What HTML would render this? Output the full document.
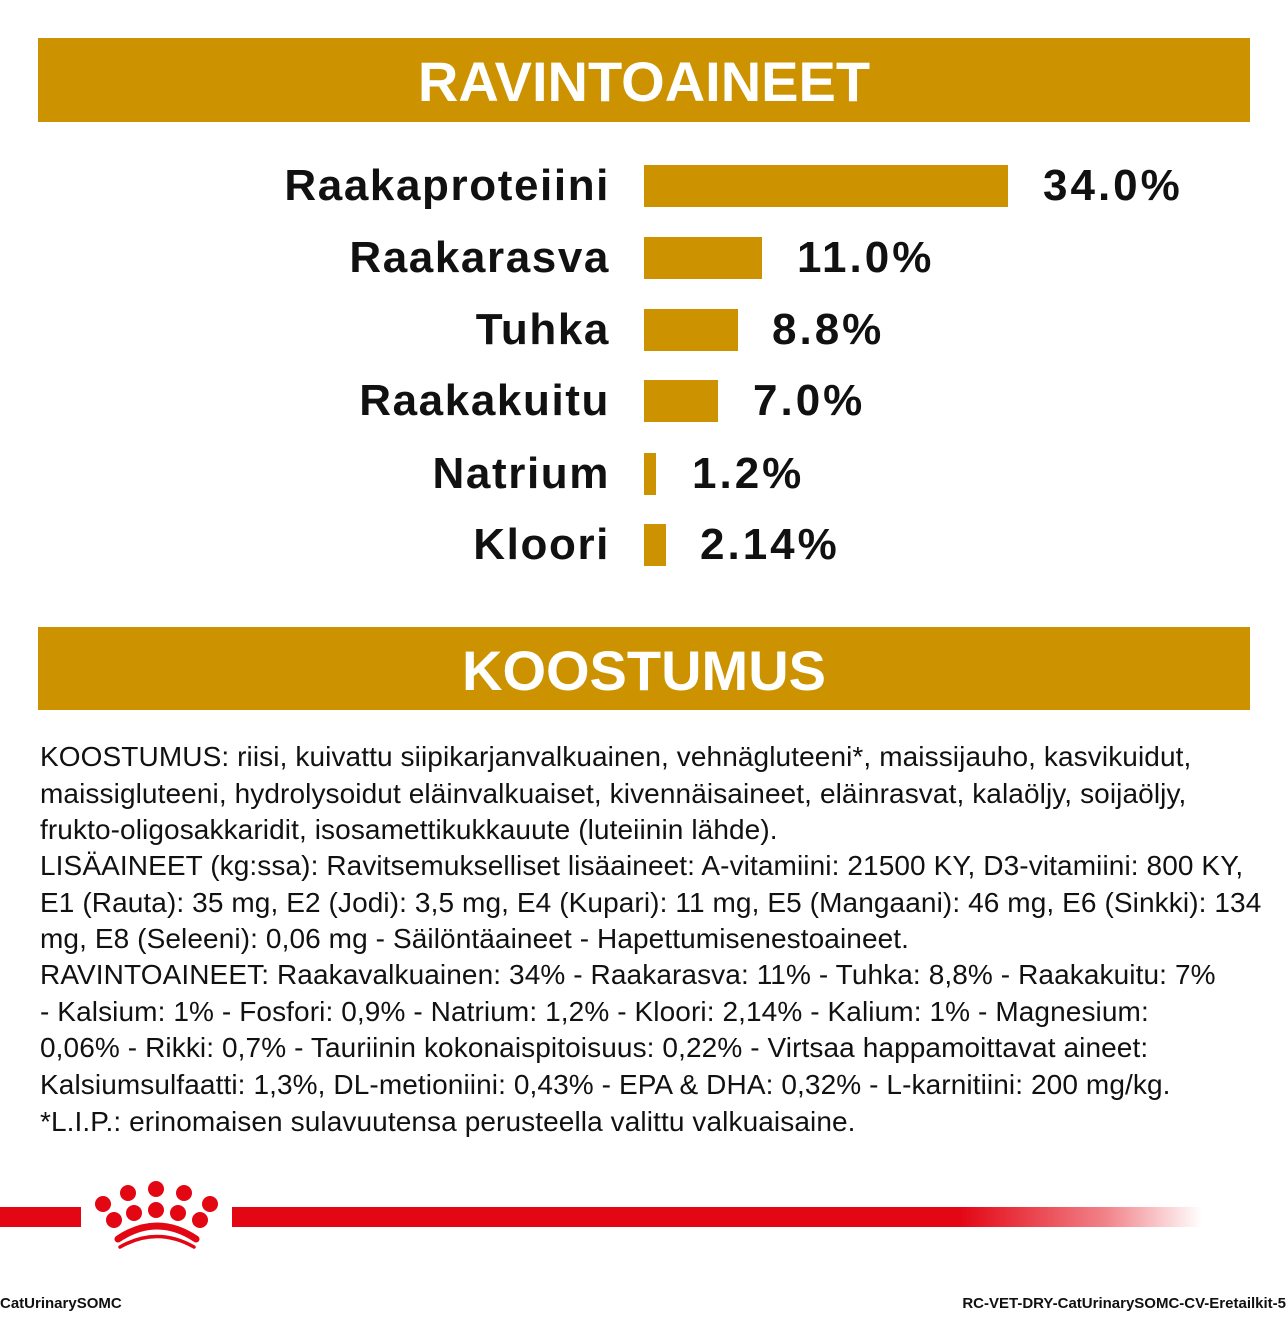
<!DOCTYPE html>
<html><head><meta charset="utf-8"><style>
body{margin:0;width:1288px;height:1320px;background:#fff;position:relative;overflow:hidden;font-family:"Liberation Sans",sans-serif;color:#111}
.hd{position:absolute;left:38px;width:1212px;background:#cc9200;color:#fff;font-weight:bold;font-size:56px;text-align:center;letter-spacing:0}
.lb{position:absolute;right:678px;font-weight:bold;font-size:44px;line-height:50px;white-space:nowrap;letter-spacing:1.6px}
.bar{position:absolute;left:644px;height:42px;background:#cc9200}
.v{position:absolute;font-weight:bold;font-size:44px;line-height:50px;white-space:nowrap;letter-spacing:3px}
.t{position:absolute;left:40px;font-size:28px;line-height:36px;white-space:nowrap;letter-spacing:0.1px}
.f{position:absolute;top:1295px;font-weight:bold;font-size:15px;white-space:nowrap}
</style></head><body>
<div class="hd" style="top:38px;height:84px;line-height:88px">RAVINTOAINEET</div>
<div class="lb" style="top:161px">Raakaproteiini</div><div class="bar" style="top:165px;width:364px"></div><div class="v" style="left:1043px;top:161px">34.0%</div>
<div class="lb" style="top:233px">Raakarasva</div><div class="bar" style="top:237px;width:118px"></div><div class="v" style="left:797px;top:233px">11.0%</div>
<div class="lb" style="top:305px">Tuhka</div><div class="bar" style="top:309px;width:94px"></div><div class="v" style="left:772px;top:305px">8.8%</div>
<div class="lb" style="top:376px">Raakakuitu</div><div class="bar" style="top:380px;width:74px"></div><div class="v" style="left:753px;top:376px">7.0%</div>
<div class="lb" style="top:449px">Natrium</div><div class="bar" style="top:453px;width:12px"></div><div class="v" style="left:692px;top:449px">1.2%</div>
<div class="lb" style="top:520px">Kloori</div><div class="bar" style="top:524px;width:22px"></div><div class="v" style="left:700px;top:520px">2.14%</div>
<div class="hd" style="top:627px;height:83px;line-height:88px">KOOSTUMUS</div>
<div class="t" style="top:739px">KOOSTUMUS: riisi, kuivattu siipikarjanvalkuainen, vehnägluteeni*, maissijauho, kasvikuidut,</div>
<div class="t" style="top:776px">maissigluteeni, hydrolysoidut eläinvalkuaiset, kivennäisaineet, eläinrasvat, kalaöljy, soijaöljy,</div>
<div class="t" style="top:812px">frukto-oligosakkaridit, isosamettikukkauute (luteiinin lähde).</div>
<div class="t" style="top:848px">LISÄAINEET (kg:ssa): Ravitsemukselliset lisäaineet: A-vitamiini: 21500 KY, D3-vitamiini: 800 KY,</div>
<div class="t" style="top:885px">E1 (Rauta): 35 mg, E2 (Jodi): 3,5 mg, E4 (Kupari): 11 mg, E5 (Mangaani): 46 mg, E6 (Sinkki): 134</div>
<div class="t" style="top:921px">mg, E8 (Seleeni): 0,06 mg - Säilöntäaineet - Hapettumisenestoaineet.</div>
<div class="t" style="top:957px">RAVINTOAINEET: Raakavalkuainen: 34% - Raakarasva: 11% - Tuhka: 8,8% - Raakakuitu: 7%</div>
<div class="t" style="top:994px">- Kalsium: 1% - Fosfori: 0,9% - Natrium: 1,2% - Kloori: 2,14% - Kalium: 1% - Magnesium:</div>
<div class="t" style="top:1030px">0,06% - Rikki: 0,7% - Tauriinin kokonaispitoisuus: 0,22% - Virtsaa happamoittavat aineet:</div>
<div class="t" style="top:1067px">Kalsiumsulfaatti: 1,3%, DL-metioniini: 0,43% - EPA &amp; DHA: 0,32% - L-karnitiini: 200 mg/kg.</div>
<div class="t" style="top:1104px">*L.I.P.: erinomaisen sulavuutensa perusteella valittu valkuaisaine.</div>
<div style="position:absolute;left:0;top:1207px;width:81px;height:20px;background:#e30613"></div>
<div style="position:absolute;left:232px;top:1207px;width:970px;height:20px;background:linear-gradient(90deg,#e30613 0%,#e30613 75%,rgba(227,6,19,0.5) 90%,rgba(227,6,19,0) 100%)"></div>
<svg style="position:absolute;left:80px;top:1170px" width="160" height="90" viewBox="80 1170 160 90">
<g fill="#e30613">
<circle cx="156" cy="1189" r="8"/><circle cx="128" cy="1193" r="8"/><circle cx="184" cy="1193" r="8"/>
<circle cx="103" cy="1204" r="8"/><circle cx="210" cy="1204" r="8"/>
<circle cx="134" cy="1213" r="8"/><circle cx="156" cy="1210" r="8"/><circle cx="178" cy="1213" r="8"/>
<circle cx="114" cy="1220" r="8"/><circle cx="200" cy="1220" r="8"/>
</g>
<path d="M118 1239 Q157 1213 196 1239" stroke="#e30613" stroke-width="7" fill="none" stroke-linecap="round"/>
<path d="M120 1247 Q157 1226 194 1247" stroke="#e30613" stroke-width="3.5" fill="none" stroke-linecap="round"/>
</svg>
<div class="f" style="left:0">CatUrinarySOMC</div>
<div class="f" style="right:2px">RC-VET-DRY-CatUrinarySOMC-CV-Eretailkit-5</div>
</body></html>
